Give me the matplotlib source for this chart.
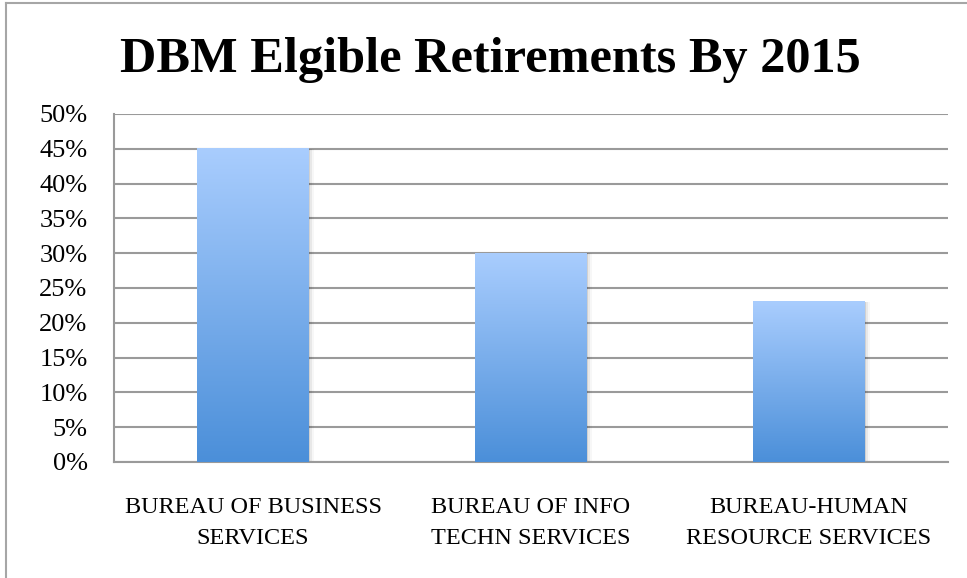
import numpy as np
import matplotlib.pyplot as plt
from matplotlib.colors import LinearSegmentedColormap
from matplotlib.lines import Line2D

categories = ["BUREAU OF BUSINESS\nSERVICES", "BUREAU OF INFO\nTECHN SERVICES", "BUREAU-HUMAN\nRESOURCE SERVICES"]
values = [0.45, 0.30, 0.23]
yticks = [0, 0.05, 0.10, 0.15, 0.20, 0.25, 0.30, 0.35, 0.40, 0.45, 0.50]
ytick_labels = ["0%", "5%", "10%", "15%", "20%", "25%", "30%", "35%", "40%", "45%", "50%"]
title = "DBM Elgible Retirements By 2015"

plt.rcParams['font.family'] = ['Liberation Serif', 'DejaVu Serif']

fig = plt.figure(figsize=(9.67, 5.78), dpi=100)
ax = fig.add_axes([0.1179, 0.2007, 0.8625, 0.6021])

# outer chart border (top and left only visible)
fig.add_artist(Line2D([6 / 967, 6 / 967], [0, 1 - 3 / 578], transform=fig.transFigure, color='#a6a6a6', lw=1.5))
fig.add_artist(Line2D([6 / 967, 1], [1 - 3 / 578, 1 - 3 / 578], transform=fig.transFigure, color='#a6a6a6', lw=1.5))

x = np.arange(len(categories))
bars = ax.bar(x, values, width=0.4, color='none', edgecolor='none', zorder=3)

cmap = LinearSegmentedColormap.from_list('blu', ['#4b8fd9', '#a9cdfe'])
grad = np.linspace(0, 1, 256).reshape(-1, 1)
for b in bars:
    x0, w, h = b.get_x(), b.get_width(), b.get_height()
    # soft shadow
    for i, a in enumerate([0.10, 0.06, 0.03]):
        ax.bar(x0 + w / 2 + 0.006 * (i + 1), h, width=w, bottom=0, color='black', alpha=a, zorder=2, lw=0)
    ax.imshow(grad, extent=(x0, x0 + w, 0, h), origin='lower', cmap=cmap, aspect='auto', zorder=4)

ax.set_xlim(-0.5, len(categories) - 0.5)
ax.set_ylim(0, 0.5)
ax.set_yticks(yticks)
ax.set_yticklabels(ytick_labels, fontsize=19)
ax.set_xticks(x)
ax.set_xticklabels(categories, fontsize=17.5, linespacing=1.65)
ax.tick_params(axis='both', length=0)
ax.tick_params(axis='y', pad=19)
ax.tick_params(axis='x', pad=25)
ax.grid(axis='y', color='#9a9a9a', lw=1.5, zorder=1)
ax.set_axisbelow(True)
for s in ['top', 'right']:
    ax.spines[s].set_visible(False)
for s in ['left', 'bottom']:
    ax.spines[s].set_color('#9a9a9a')
    ax.spines[s].set_linewidth(1.5)

fig.text(490 / 967, 1 - 72 / 578, title, ha='center', va='baseline', fontsize=36.3, fontweight='bold')

fig.savefig('out.png', dpi=100)
